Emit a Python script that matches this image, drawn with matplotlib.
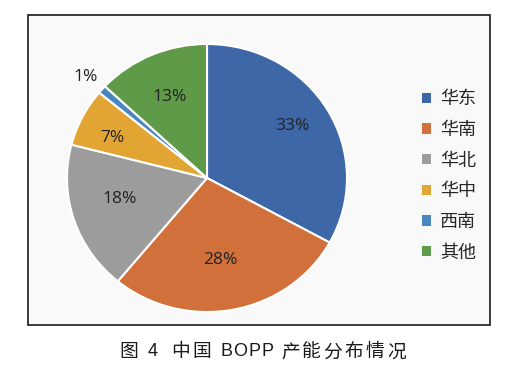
import matplotlib
matplotlib.use("Agg")
import matplotlib.pyplot as plt
from matplotlib.patches import Rectangle, Patch
import numpy as np

plt.rcParams['font.family'] = ['Noto Sans CJK SC', 'DejaVu Sans']

regions = ['华东', '华南', '华北', '华中', '西南', '其他']
shares = [33, 28, 18, 7, 1, 13]
colors = ['#3E67A8', '#D1703A', '#9C9C9C', '#E2A533', '#4A86C0', '#5F9A48']
label_dist = [0.72, 0.623, 0.645, 0.742, 1.147, 0.66]
label_ang_off = [2, -1.9, -3.6, 3.2, 0.3, 0.2]
caption = '图 4  中国 BOPP 产能分布情况'

W, H = 532, 374
fig = plt.figure(figsize=(W/100, H/100), dpi=100)
fig.patch.set_facecolor('white')

# bordered chart area
fig.patches.append(Rectangle((28/W, 1-325/H), (490-28)/W, (325-15)/H,
                             transform=fig.transFigure, facecolor='#F9F9F9',
                             edgecolor='#1A1A1A', linewidth=1.2, zorder=-5))

cx, cy, rx, ry = 207, 178, 140, 134
ax = fig.add_axes([(cx-rx)/W, 1-(cy+ry)/H, 2*rx/W, 2*ry/H])
ax.set_zorder(2)
ax.patch.set_visible(False)
wedges, _ = ax.pie(shares, colors=colors, startangle=90, counterclock=False,
                   wedgeprops=dict(edgecolor='white', linewidth=1.5))
ax.set_aspect('auto')
ax.set_xlim(-1.0, 1.0)
ax.set_ylim(-1.0, 1.0)

for w, s, d, off in zip(wedges, shares, label_dist, label_ang_off):
    mid = np.deg2rad((w.theta1 + w.theta2) / 2 + off)
    ax.text(d*np.cos(mid), d*np.sin(mid), f'{s}%', ha='center', va='center',
            fontsize=12.5, color='#222222', fontweight='medium',
            family=['Open Sans', 'DejaVu Sans'])

handles = [Patch(facecolor=c, edgecolor='none') for c in colors]
leg = fig.legend(handles, regions, loc='center left', bbox_to_anchor=(406/W, 1-176/H),
                 frameon=False, handlelength=0.5, handleheight=0.5,
                 handletextpad=0.5, labelspacing=0.7, labelcolor='#262626',
                 prop=dict(size=13, weight='medium'))

# caption with letter spacing (wider tracking for CJK glyphs)
fig.canvas.draw()
renderer = fig.canvas.get_renderer()
cap_size = 13.5
cjk_track = 2.5
latin_track = 1.0
space_px = 6.5
texts = []
x = 0.0
for ch in caption:
    if ch == ' ':
        x += space_px
        continue
    is_cjk = ord(ch) > 0x2E80
    fam = ['Noto Sans CJK SC'] if is_cjk else ['Liberation Sans', 'DejaVu Sans']
    t = fig.text(0, 1-352/H, ch, ha='left', va='center',
                 fontsize=cap_size if is_cjk else 13,
                 color='#1A1A1A', fontweight='medium', family=fam)
    wpx = t.get_window_extent(renderer).width
    texts.append((t, x))
    x += wpx + (cjk_track if is_cjk else latin_track)
total = x
x0 = 264 - total/2
for t, off in texts:
    t.set_x((x0 + off)/W)

fig.savefig('out.png', dpi=100)
